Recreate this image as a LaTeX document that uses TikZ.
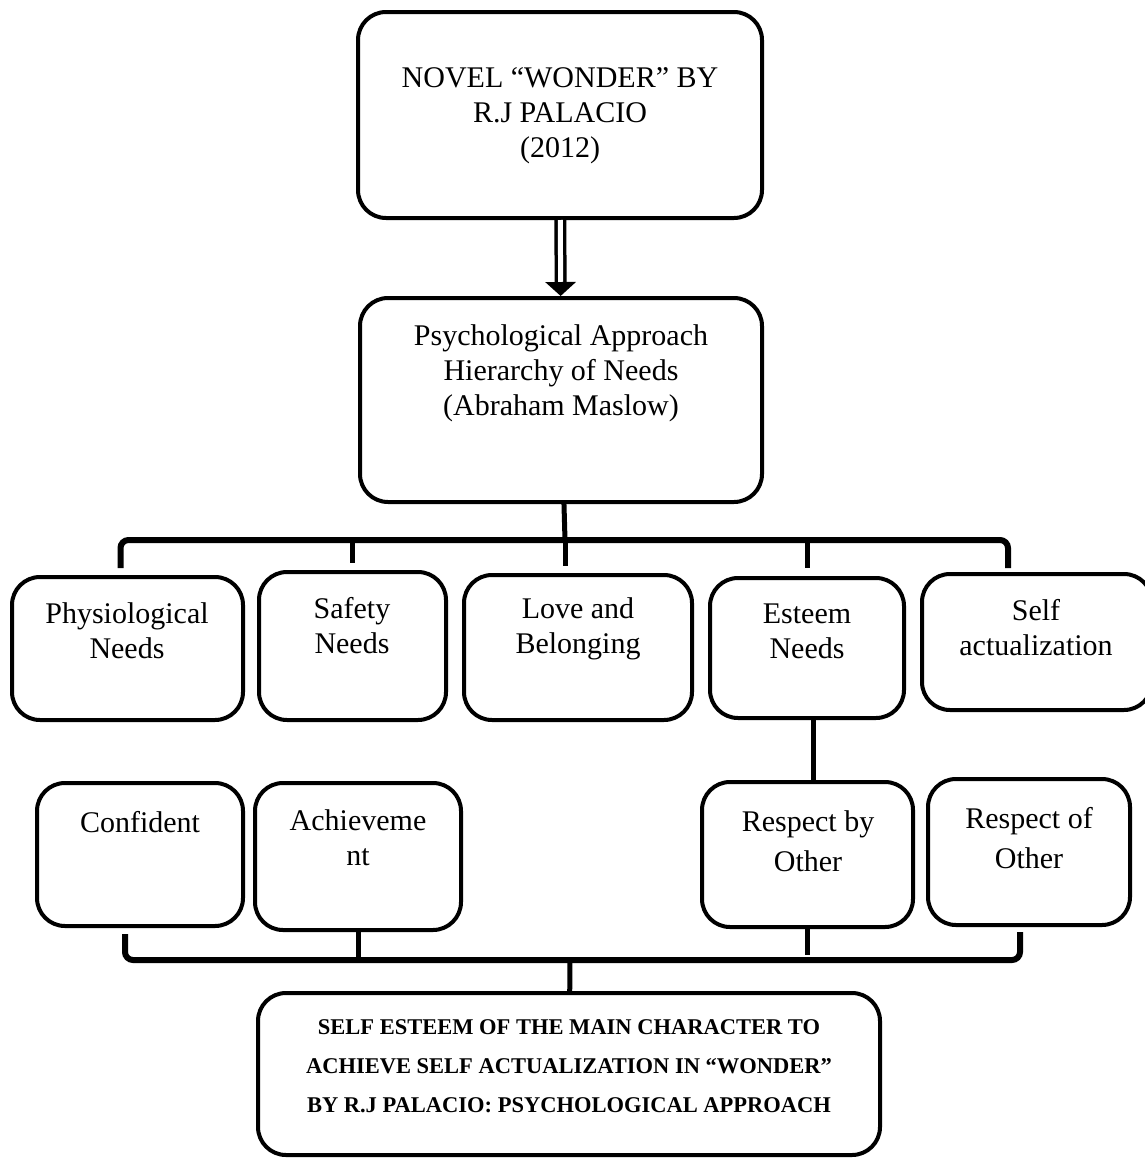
\documentclass[tikz,border=0pt]{standalone}
\usepackage{fontspec}
\setmainfont{Liberation Serif}
\usetikzlibrary{arrows.meta}

\begin{document}
\begin{tikzpicture}[x=1pt, y=-1pt,
    box/.style ={draw, line width=4pt, rounded corners=28pt, inner sep=0pt},
    txt/.style ={align=center, font=\fontsize{30}{35}\selectfont},
    brace/.style ={line width=6pt, rounded corners=8pt},
    tick/.style ={line width=5pt}]
   \fill[white] (0,0) rectangle (1145,1159);
   \useasboundingbox (0,0) rectangle (1145,1159);
   % boxes
   \node[box, minimum width=404, minimum height=206] (novel)  at (560,115)  {};
   \node[box, minimum width=402, minimum height=204] (appr)   at (561,400)  {};
   \node[box, minimum width=231, minimum height=143] (phys)   at (127.5,648.5)  {};
   \node[box, minimum width=187, minimum height=148] (safe)   at (352.5,646)  {};
   \node[box, minimum width=228, minimum height=145] (love)   at (578,647.5)  {};
   \node[box, minimum width=194, minimum height=140] (esteem) at (807,648)  {};
   \node[box, minimum width=230, minimum height=136] (self)   at (1037,642)  {};
   \node[box, minimum width=206, minimum height=143] (conf)   at (140,854.5)  {};
   \node[box, minimum width=206, minimum height=147] (achv)   at (358,856.5)  {};
   \node[box, minimum width=211, minimum height=145] (respby) at (807.5,854.5)  {};
   \node[box, minimum width=202, minimum height=146] (respof) at (1029,852)  {};
   \node[box, minimum width=622, minimum height=162] (goal)   at (569,1074)  {};
   % texts
   \node[txt] (novel-t)  at (560,116)  {NOVEL “WONDER” BY\\R.J PALACIO\\(2012)};
   \node[txt] (appr-t)   at (561,373)  {Psychological Approach\\Hierarchy of Needs\\(Abraham Maslow)};
   \node[txt] (phys-t)   at (127,631)  {Physiological\\Needs};
   \node[txt] (safe-t)   at (352,626)  {Safety\\Needs};
   \node[txt] (love-t)   at (578,629)  {Love and\\Belonging};
   \node[txt] (esteem-t) at (807,631)  {Esteem\\Needs};
   \node[txt] (self-t)   at (1036,628) {Self\\actualization};
   \node[txt] (conf-t)   at (140,822)  {Confident};
   \node[txt] (achv-t)   at (358,838)  {Achieveme\\nt};
   \node[txt] (respby-t) at (808,841)  {Respect by\\[5pt]Other};
   \node[txt] (respof-t) at (1029,838) {Respect of\\[5pt]Other};
   \node[align=center, font=\fontsize{22.5}{39}\selectfont\bfseries] (goal-t) at (569,1066)
      {SELF ESTEEM OF THE MAIN CHARACTER TO\\ACHIEVE SELF ACTUALIZATION IN “WONDER”\\BY R.J PALACIO: PSYCHOLOGICAL APPROACH};
   % connectors
   \draw[line width=3.5pt, double distance=5pt, -{Triangle[width=30pt, length=14pt]}] (novel) to (appr);
   \coordinate (bar1) at (565,540);
   \draw[brace] ([xshift=-7pt, yshift=7pt]phys.north) |- (bar1) -| ([xshift=-29pt, yshift=4pt]self.north);
   \draw[tick] (appr) to (bar1);
   \draw[tick, shorten >=7pt] (bar1 -| safe.north) to (safe.north);
   \draw[tick, shorten >=7pt] (bar1) to (bar1 |- love.north);
   \draw[tick, shorten >=8pt] (bar1 -| esteem.north) to (esteem.north);
   \draw[tick] ([xshift=6pt]esteem.south) to ([xshift=6pt]esteem.south |- respby.north);
   \coordinate (bar2) at (570,960);
   \draw[brace] ([xshift=-15pt, yshift=-6pt]conf.south) |- (bar2) -| ([xshift=-9pt, yshift=-5pt]respof.south);
   \draw[tick] (achv) to (achv |- bar2);
   \draw[tick, shorten >=5pt] (respby) to (respby |- bar2);
   \draw[tick] (bar2) to (goal);
 \end{tikzpicture}
\end{document}
